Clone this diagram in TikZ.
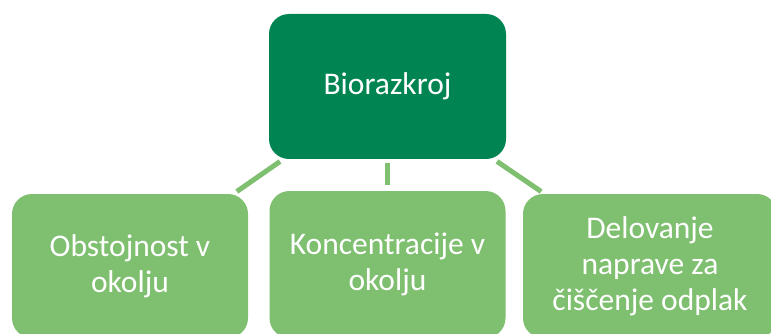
\documentclass[tikz,border=0pt]{standalone}
\usepackage{fontspec}
\setmainfont{Carlito}
\definecolor{darkgreen}{RGB}{0,133,82}
\definecolor{lightgreen}{RGB}{127,191,112}
\begin{document}
\begin{tikzpicture}[x=1pt,y=-1pt,
  box/.style={rectangle, rounded corners=20pt, inner sep=0pt, text=white,
    align=center, font=\fontsize{31.5}{36}\selectfont},
  topbox/.style={box, fill=darkgreen, minimum width=237pt, minimum height=145pt},
  leafbox/.style={box, fill=lightgreen, minimum width=236pt, minimum height=144pt},
  link/.style={draw=lightgreen, line width=5pt, shorten <=4pt, shorten >=4pt}]
  \useasboundingbox (0,0) rectangle (771,334);
  \clip (0,0) rectangle (771,334);

  % root
  \node[topbox] (root) at (387.5,86.5) {Biorazkroj};

  % children
  \node[leafbox] (left) at (130,266) {Obstojnost v\\okolju};
  \node[leafbox, minimum height=147pt] (mid) at (387.5,264.5) {Koncentracije v\\okolju};
  \node[leafbox, minimum width=254pt] (right) at (650,266) {Delovanje\\naprave za\\čiščenje odplak};

  % connectors
  \draw[link] (root) -- (left);
  \draw[link, shorten >=6pt] (root) -- (mid);
  \draw[link] (root) -- (right);
\end{tikzpicture}
\end{document}
